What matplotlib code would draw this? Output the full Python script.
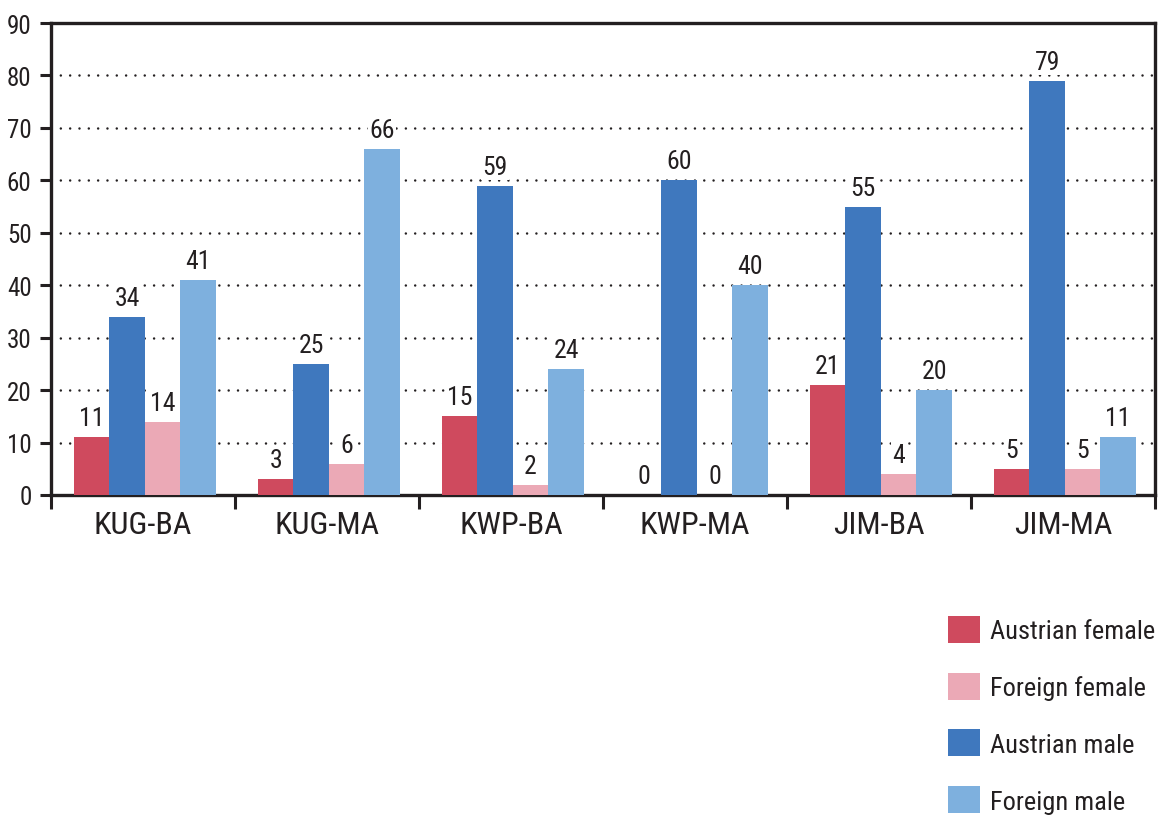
import matplotlib
matplotlib.use("Agg")
import matplotlib.pyplot as plt
from matplotlib.patches import Patch
import numpy as np

plt.rcParams['font.family'] = ['Roboto Condensed', 'Noto Sans', 'DejaVu Sans']
plt.rcParams['font.stretch'] = 'condensed'

categories = ["KUG-BA", "KUG-MA", "KWP-BA", "KWP-MA", "JIM-BA", "JIM-MA"]
austrian_female = [11, 3, 15, 0, 21, 5]
austrian_male = [34, 25, 59, 60, 55, 79]
foreign_female = [14, 6, 2, 0, 4, 5]
foreign_male = [41, 66, 24, 40, 20, 11]
y_ticks = [0, 10, 20, 30, 40, 50, 60, 70, 80, 90]

series = [
    ("Austrian female", austrian_female, "#CF4A5E"),
    ("Austrian male", austrian_male, "#3F78BE"),
    ("Foreign female", foreign_female, "#EBA9B6"),
    ("Foreign male", foreign_male, "#7EB0DE"),
]
legend_order = ["Austrian female", "Foreign female", "Austrian male", "Foreign male"]

W, H = 1161, 820
fig = plt.figure(figsize=(W / 100, H / 100), dpi=100)
ax = fig.add_axes([51 / W, 1 - 496 / H, 1104 / W, 472 / H])

text_color = "#231F20"
x = np.arange(len(categories))
bw = 0.193
offsets = (np.arange(4) - 1.5) * bw + 0.01

for (name, vals, col), off in zip(series, offsets):
    bars = ax.bar(x + off, vals, width=bw, color=col, label=name, zorder=3)
    for rect, v in zip(bars, vals):
        ax.annotate(str(v), (rect.get_x() + rect.get_width() / 2, v),
                    xytext=(0, 5), textcoords="offset points",
                    ha="center", va="bottom", fontsize=18.5, color=text_color,
                    zorder=5,
                    bbox=dict(boxstyle="square,pad=0.05", fc="white", ec="none"))

ax.set_xlim(-0.5, len(categories) - 0.5)
ax.set_ylim(0, 90)
ax.set_yticks(y_ticks)
ax.set_yticklabels([str(t) for t in y_ticks], fontsize=18, color=text_color)

# group labels centred, tick marks at group boundaries
ax.set_xticks(np.arange(len(categories) + 1) - 0.5)
ax.set_xticklabels([])
ax.set_xticks(x, minor=True)
ax.set_xticklabels(categories, minor=True, fontsize=23, color=text_color)
ax.tick_params(axis="x", which="minor", length=0, pad=11)
ax.tick_params(axis="x", which="major", direction="out", length=10, width=2.2,
               color=text_color)
ax.tick_params(axis="y", direction="out", length=8, width=2.2, color=text_color,
               pad=6)

# dotted horizontal grid
for y in y_ticks[1:-1]:
    ax.axhline(y, color=text_color, lw=1.8, ls=(0, (0.01, 3.72)),
               dash_capstyle="round", zorder=1)

for s in ax.spines.values():
    s.set_color(text_color)
    s.set_linewidth(2.4)

handles = {name: Patch(facecolor=col) for name, _, col in series}
fig.legend([handles[n] for n in legend_order], legend_order,
           loc="upper left", bbox_to_anchor=(948 / W, 1 - 617 / H),
           frameon=False, fontsize=19, handlelength=1.2, handleheight=1.2,
           handletextpad=0.38, labelspacing=1.11, borderpad=0, borderaxespad=0,
           labelcolor=text_color)

fig.savefig("out.png", dpi=100, facecolor="white")
